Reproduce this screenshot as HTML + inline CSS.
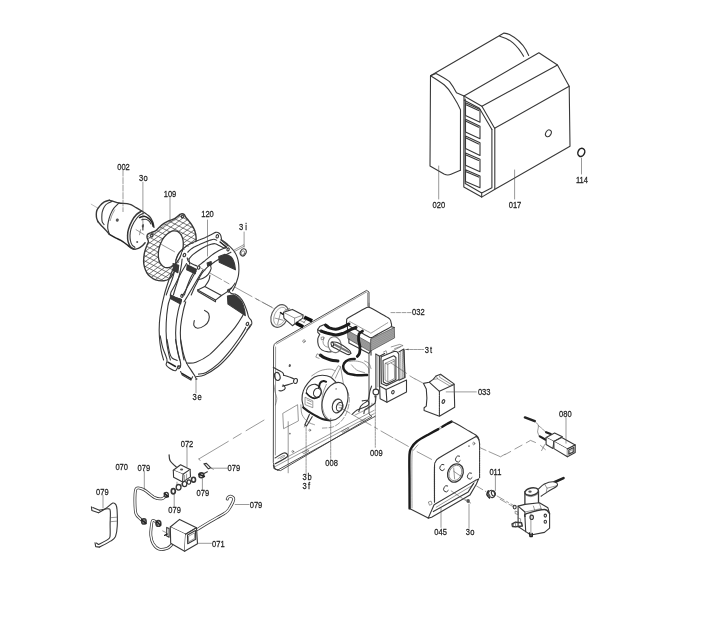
<!DOCTYPE html>
<html><head><meta charset="utf-8"><title>Parts diagram</title>
<style>
html,body{margin:0;padding:0;background:#fff;}
body{width:705px;height:617px;overflow:hidden;}
svg{display:block;filter:blur(.32px);}
.d path,.d line,.d polyline,.d polygon,.d ellipse,.d circle,.d rect{fill:none;stroke:#383838;stroke-width:1.1;stroke-linecap:round;stroke-linejoin:round;}
.d .w{fill:#fff;}
.d .k{fill:#383838;stroke:#383838;}
.d .g{fill:#555;stroke:none;}
.d .t{stroke-width:.6;stroke:#555;}
.d .h{stroke-width:1.5;stroke:#222;}
.d .c{stroke-width:.55;stroke:#888;stroke-dasharray:10 2.5 2 2.5;}
.d .x{stroke-width:.5;stroke:#444;}
.d text{font-family:"Liberation Sans",Arial,sans-serif;font-size:9px;fill:#222;stroke:#222;stroke-width:.25px;text-anchor:middle;}
</style></head><body>
<svg class="d" width="705" height="617" viewBox="0 0 705 617">
<rect x="0" y="0" width="705" height="617" style="fill:#fff;stroke:none"/>
<g id="cover">
<path d="M430.5,75.7 L504,33.1 Q507,33.3 509.5,34.6 Q520,40 526,50 L528.7,55.5"/>
<path d="M499.7,36.2 Q508,38.5 513,42.8 Q519,48 523.6,56.3"/>
<path d="M430.5,75.7 L430,166 L444,174 Q447.5,175.8 451,174.3 L460.4,170.3"/>
<path d="M430.5,75.7 L436,73.4 Q445,78 449.5,81.6 Q453,86 456.5,92.7 L464,96.1"/>
<path d="M430.5,75.7 Q440,81.5 444.4,85 Q449,89 453,96 Q458,104 460.5,109.7 L460.4,170.3"/>
<path d="M464,96.1 L538.9,52.7 L557.5,65 L569.2,86.3 L570,146.3 L496.2,188.6 L481.7,197.1 L463.8,187 Z"/>
<path d="M464,96.1 L481.9,106.3 L494.6,128.3 L569.2,86.3"/>
<path d="M481.9,106.3 L557.5,65"/>
<path d="M464.3,100.3 L479.4,108.2 L491.9,129.5"/>
<path d="M494.8,128.3 L494.8,188.8 M491.9,129.5 L491.9,187.8 L481.7,192.9 L465.2,183.5 L465.2,99 M481.7,192.9 L481.7,197.1"/>
<path d="M465.5,102.7 L480,109.5 L480,122.2 L465.5,115.4 Z M465.5,104.5 L478.6,110.6"/>
<path d="M465.5,119.2 L480,126.2 L480,138.8 L465.5,132 Z M465.5,121 L478.6,127.3"/>
<path d="M465.5,136 L480,142.8 L480,155.4 L465.5,148.6 Z M465.5,137.8 L478.6,143.9"/>
<path d="M465.5,152.9 L480,159.3 L480,171.8 L465.5,165.2 Z M465.5,154.7 L478.6,160.4"/>
<path d="M465.5,169.7 L480,176 L480,187.8 L465.5,181.6 Z M465.5,171.5 L478.6,177.1"/>
<ellipse cx="548.4" cy="133.3" rx="2.6" ry="3.6" transform="rotate(30 548.4 133.3)"/>
<ellipse class="h" cx="581.3" cy="152.4" rx="3.3" ry="4.2" transform="rotate(25 581.3 152.4)"/>
<path class="t" d="M438.7,166 L438.7,199 M514.6,170 L514.6,199 M581.5,158 L581.5,174"/>
<text transform="translate(438.8 208.3) scale(.84 1)">020</text><text transform="translate(515 208.3) scale(.84 1)">017</text><text transform="translate(582 183.3) scale(.84 1)">114</text>
</g>
<g id="motor">
<path class="c" style="stroke-dasharray:none" d="M91.2,204.2 L98,208.2"/>
<path style="stroke-width:1.4" d="M109.4,200.2 C108.5,200.5 105.9,201 104.3,201.9 C102.7,202.9 101,204.5 99.8,205.9 C98.5,207.3 97.5,209 96.9,210.4 C96.3,211.8 96.4,213.1 96.3,214.4 C96.3,215.7 96.4,217.1 96.7,218.4 C97,219.6 97.8,221.2 98,221.8"/>
<path d="M112.2,201.3 C111.5,201.7 109,202.5 107.7,203.4 C106.4,204.2 105.4,205 104.5,206.5 C103.6,207.9 102.7,210.3 102.2,212.1 C101.8,213.9 101.8,215.6 101.8,217.2 C101.8,218.8 101.9,220.5 102.2,221.8 C102.6,223 103.8,224.1 104.1,224.6"/>
<path style="stroke-width:1.3" d="M109.4,200.2 C110.1,200.4 111.8,200.9 113.4,201.3 C115,201.8 116.4,202.6 119,203 C121.7,203.5 126.4,203.4 129.3,204.2 C132.1,204.9 134,206.5 136.1,207.6 C138.1,208.7 139.5,209.5 141.7,211 C144,212.5 147.8,214.8 149.7,216.7 C151.5,218.6 152.1,220.5 152.9,222.3 C153.6,224.1 153.8,226.6 154,227.4"/>
<path style="stroke-width:1.4" d="M98,221.8 C98.7,222.5 100.8,225 102,226.3 C103.3,227.6 104.2,228.4 105.4,229.7 C106.7,231 108.7,233.5 109.4,234.3"/>
<path class="h" d="M109.4,234.3 C110.4,234.9 113.5,236.7 115.6,237.9 C117.8,239.1 120.4,240 122.4,241.3 C124.5,242.6 126.7,244.5 128.1,245.6 C129.5,246.7 130,247.3 131,247.9 C131.9,248.4 133.3,248.8 133.8,249"/>
<path d="M119,203 C118.2,203.9 115.4,206.3 113.9,208.2 C112.5,210 111.5,212.1 110.5,214.4 C109.6,216.7 108.7,219.5 108.3,221.8 C107.8,224 107.5,225.9 107.7,228 C107.9,230.1 109.1,233.2 109.4,234.3"/>
<path class="t" d="M114.7,209.9 C114.3,210.7 112.8,213.2 112,215 C111.3,216.8 110.5,219.7 110.2,220.6"/>
<path style="stroke-width:1.5" d="M141.7,211 C140.9,211.6 138.2,212.8 136.6,214.4 C135,216 133.4,218.3 132.1,220.6 C130.8,223 129.4,226.1 128.7,228.6 C127.9,231 127.6,233.2 127.6,235.4 C127.5,237.6 127.6,239.7 128.1,241.6 C128.6,243.5 129.4,245.5 130.4,246.7 C131.3,248 132.5,248.7 133.8,249 C135.1,249.3 136.9,249 138.3,248.4 C139.8,247.9 141.2,246.8 142.3,245.8 C143.4,244.9 144.7,243.3 145.1,242.8"/>
<path d="M143.4,213.3 C142.6,213.8 139.9,214.8 138.3,216.3 C136.8,217.8 135.3,220.2 134,222.3 C132.8,224.5 131.6,227 131,229.1 C130.3,231.3 130.1,233.5 130,235.4 C130,237.3 130,238.9 130.4,240.5 C130.7,242.1 131.3,243.9 132.1,245 C132.8,246.2 134.5,246.9 134.9,247.3"/>
<path class="h" d="M139.5,217.6 C140.2,217.4 142.5,216.2 144,216.3 C145.5,216.5 147.2,217.4 148.5,218.4 C149.9,219.4 151.2,221 152,222.3 C152.7,223.7 152.9,225.7 153.1,226.3"/>
<path d="M141.7,219.7 C142.4,219.7 144.5,219 145.7,219.3 C146.9,219.5 148.2,220.4 149.1,221.2 C150,222 150.7,223.6 151,224"/>
<ellipse class="g" cx="117.3" cy="220.1" rx="1.5" ry="1.7" transform="rotate(20 117.3 220.1)"/>
<ellipse class="g" cx="142.9" cy="225.7" rx="1.1" ry="1.8" transform="rotate(10 142.9 225.7)"/>
<path d="M142.9,226.9 L142.9,229.9"/>
<ellipse class="g" cx="137.2" cy="242" rx="1" ry="1" transform="rotate(0 137.2 242)"/>
<path class="t" d="M136.1,229.7 L144,234.5"/>
<path class="t" d="M140.6,229.7 L139.5,234.8"/>
<path class="t" style="stroke-dasharray:6 1.5" d="M123,170.1 L123,211.6"/>
<path class="t" d="M142.9,182.1 L142.9,224"/>
<text transform="translate(123.5 169.5) scale(.84 1)">002</text>
<text transform="translate(141.2 180.5) scale(.84 1)">3</text>
<text transform="translate(145.6 180.5) scale(.84 1)" font-size="6">o</text>
</g>
<g id="gasket">
<clipPath id="gk"><path clip-rule="evenodd" d="M147,237.3 C146.9,236.1 147,235.1 147.7,234.3 C148.4,233.5 150,233.1 151.3,232.6 C152.6,232 154.1,231.8 155.5,230.9 C157,229.9 158.4,228 159.8,226.8 C161.2,225.5 162.5,224.4 164,223.4 C165.6,222.4 167.4,221.5 169.1,220.7 C170.9,219.9 173,219.5 174.6,218.6 C176.2,217.8 177.4,216.3 178.5,215.6 C179.6,214.8 180.1,214 181.1,213.9 C182,213.7 183.3,213.8 184.1,214.4 C184.9,214.9 185.1,216.2 185.8,217.3 C186.6,218.3 187.7,219.3 188.7,220.7 C189.8,222 191.1,223.8 192.1,225.4 C193.1,227.1 194,228.7 194.7,230.5 C195.3,232.4 195.9,234.4 196,236.5 C196.2,238.6 196.2,241.2 195.7,243.3 C195.2,245.4 194.6,247.1 193,249.3 C191.4,251.4 188.2,253.8 186.2,256.1 C184.2,258.3 182.8,260.6 181.1,262.9 C179.4,265.1 177.2,268 176,269.7 C174.7,271.4 174.4,271.7 173.4,273.1 C172.4,274.5 171.6,276.9 170,278.2 C168.4,279.5 166.5,280.5 164,280.7 C161.6,281 157.9,280.6 155.5,279.9 C153.2,279.2 151.5,277.6 150.1,276.5 C148.7,275.4 148,274.6 147,273.1 C146.1,271.5 145,269.1 144.5,267.1 C143.9,265.1 143.6,263.6 143.6,261.2 C143.6,258.8 144,255.2 144.5,252.7 C145,250.1 146,247.7 146.7,245.9 C147.3,244 148.3,243 148.4,241.6 C148.4,240.2 147.1,238.6 147,237.3 Z M176.7,231.2 C177.6,231.5 178.5,232.1 179.3,232.8 C180.1,233.5 180.8,234.4 181.4,235.4 C182,236.5 182.4,237.7 182.8,239.1 C183.1,240.4 183.3,241.9 183.3,243.4 C183.3,244.9 183.2,246.5 183,248.1 C182.7,249.7 182.3,251.3 181.8,252.9 C181.3,254.4 180.7,256 179.9,257.4 C179.2,258.9 178.3,260.2 177.4,261.4 C176.5,262.6 175.5,263.7 174.4,264.6 C173.4,265.5 172.3,266.2 171.2,266.7 C170.2,267.3 169,267.6 168,267.7 C166.9,267.8 165.9,267.7 164.9,267.4 C164,267.1 163.1,266.5 162.3,265.8 C161.5,265.1 160.8,264.2 160.2,263.2 C159.6,262.1 159.2,260.9 158.8,259.5 C158.5,258.2 158.3,256.7 158.3,255.2 C158.3,253.7 158.4,252.1 158.6,250.5 C158.9,248.9 159.3,247.3 159.8,245.7 C160.3,244.2 160.9,242.6 161.7,241.2 C162.4,239.7 163.3,238.4 164.2,237.2 C165.1,236 166.1,234.9 167.2,234 C168.2,233.1 169.3,232.4 170.4,231.9 C171.4,231.3 172.6,231 173.6,230.9 C174.7,230.8 175.7,230.9 176.7,231.2 Z"/></clipPath>
<path style="stroke-width:.7;stroke:#444" clip-path="url(#gk)" d="M-144.0,300 L-10.7,200 M-137.2,300 L-3.9,200 M-130.4,300 L2.9,200 M-123.6,300 L9.7,200 M-116.8,300 L16.5,200 M-110.0,300 L23.3,200 M-103.2,300 L30.1,200 M-96.4,300 L36.9,200 M-89.6,300 L43.7,200 M-82.8,300 L50.5,200 M-76.0,300 L57.3,200 M-69.2,300 L64.1,200 M-62.4,300 L70.9,200 M-55.6,300 L77.7,200 M-48.8,300 L84.5,200 M-42.0,300 L91.3,200 M-35.2,300 L98.1,200 M-28.4,300 L104.9,200 M-21.6,300 L111.7,200 M-14.8,300 L118.5,200 M-8.0,300 L125.3,200 M-1.2,300 L132.1,200 M5.6,300 L138.9,200 M12.4,300 L145.7,200 M19.2,300 L152.5,200 M26.0,300 L159.3,200 M32.8,300 L166.1,200 M39.6,300 L172.9,200 M46.4,300 L179.7,200 M53.2,300 L186.5,200 M60.0,300 L193.3,200 M66.8,300 L200.1,200 M73.6,300 L206.9,200 M80.4,300 L213.7,200 M87.2,300 L220.5,200 M94.0,300 L227.3,200 M100.8,300 L234.1,200 M107.6,300 L240.9,200 M114.4,300 L247.7,200 M121.2,300 L254.5,200 M128.0,300 L261.3,200 M134.8,300 L268.1,200 M141.6,300 L274.9,200 M148.4,300 L281.7,200 M155.2,300 L288.5,200 M162.0,300 L295.3,200 M168.8,300 L302.1,200 M175.6,300 L308.9,200 M182.4,300 L315.7,200 M189.2,300 L322.5,200 M196.0,300 L329.3,200 M202.8,300 L336.1,200 M209.6,300 L342.9,200 M216.4,300 L349.7,200 M223.2,300 L356.5,200 M230.0,300 L363.3,200 M236.8,300 L370.1,200 M243.6,300 L376.9,200 M250.4,300 L383.7,200 M257.2,300 L390.5,200 M264.0,300 L397.3,200 M270.8,300 L404.1,200 M277.6,300 L410.9,200 M284.4,300 L417.7,200 M291.2,300 L424.5,200 M298.0,300 L431.3,200 M304.8,300 L438.1,200 M311.6,300 L444.9,200 M318.4,300 L451.7,200 M325.2,300 L458.5,200 M130,108.0 L210,148.0 M130,113.2 L210,153.2 M130,118.4 L210,158.4 M130,123.6 L210,163.6 M130,128.8 L210,168.8 M130,134.0 L210,174.0 M130,139.2 L210,179.2 M130,144.4 L210,184.4 M130,149.6 L210,189.6 M130,154.8 L210,194.8 M130,160.0 L210,200.0 M130,165.2 L210,205.2 M130,170.4 L210,210.4 M130,175.6 L210,215.6 M130,180.8 L210,220.8 M130,186.0 L210,226.0 M130,191.2 L210,231.2 M130,196.4 L210,236.4 M130,201.6 L210,241.6 M130,206.8 L210,246.8 M130,212.0 L210,252.0 M130,217.2 L210,257.2 M130,222.4 L210,262.4 M130,227.6 L210,267.6 M130,232.8 L210,272.8 M130,238.0 L210,278.0 M130,243.2 L210,283.2 M130,248.4 L210,288.4 M130,253.6 L210,293.6 M130,258.8 L210,298.8 M130,264.0 L210,304.0 M130,269.2 L210,309.2 M130,274.4 L210,314.4 M130,279.6 L210,319.6 M130,284.8 L210,324.8 M130,290.0 L210,330.0 M130,295.2 L210,335.2 M130,300.4 L210,340.4 M130,305.6 L210,345.6 M130,310.8 L210,350.8 M130,316.0 L210,356.0 M130,321.2 L210,361.2 M130,326.4 L210,366.4 M130,331.6 L210,371.6 M130,336.8 L210,376.8 M130,342.0 L210,382.0 M130,347.2 L210,387.2 M130,352.4 L210,392.4 M130,357.6 L210,397.6 M130,362.8 L210,402.8"/>
<path style="stroke-width:1.4" d="M147,237.3 C146.9,236.1 147,235.1 147.7,234.3 C148.4,233.5 150,233.1 151.3,232.6 C152.6,232 154.1,231.8 155.5,230.9 C157,229.9 158.4,228 159.8,226.8 C161.2,225.5 162.5,224.4 164,223.4 C165.6,222.4 167.4,221.5 169.1,220.7 C170.9,219.9 173,219.5 174.6,218.6 C176.2,217.8 177.4,216.3 178.5,215.6 C179.6,214.8 180.1,214 181.1,213.9 C182,213.7 183.3,213.8 184.1,214.4 C184.9,214.9 185.1,216.2 185.8,217.3 C186.6,218.3 187.7,219.3 188.7,220.7 C189.8,222 191.1,223.8 192.1,225.4 C193.1,227.1 194,228.7 194.7,230.5 C195.3,232.4 195.9,234.4 196,236.5 C196.2,238.6 196.2,241.2 195.7,243.3 C195.2,245.4 194.6,247.1 193,249.3 C191.4,251.4 188.2,253.8 186.2,256.1 C184.2,258.3 182.8,260.6 181.1,262.9 C179.4,265.1 177.2,268 176,269.7 C174.7,271.4 174.4,271.7 173.4,273.1 C172.4,274.5 171.6,276.9 170,278.2 C168.4,279.5 166.5,280.5 164,280.7 C161.6,281 157.9,280.6 155.5,279.9 C153.2,279.2 151.5,277.6 150.1,276.5 C148.7,275.4 148,274.6 147,273.1 C146.1,271.5 145,269.1 144.5,267.1 C143.9,265.1 143.6,263.6 143.6,261.2 C143.6,258.8 144,255.2 144.5,252.7 C145,250.1 146,247.7 146.7,245.9 C147.3,244 148.3,243 148.4,241.6 C148.4,240.2 147.1,238.6 147,237.3 Z"/>
<path style="stroke-width:1.3" d="M176.7,231.2 C177.6,231.5 178.5,232.1 179.3,232.8 C180.1,233.5 180.8,234.4 181.4,235.4 C182,236.5 182.4,237.7 182.8,239.1 C183.1,240.4 183.3,241.9 183.3,243.4 C183.3,244.9 183.2,246.5 183,248.1 C182.7,249.7 182.3,251.3 181.8,252.9 C181.3,254.4 180.7,256 179.9,257.4 C179.2,258.9 178.3,260.2 177.4,261.4 C176.5,262.6 175.5,263.7 174.4,264.6 C173.4,265.5 172.3,266.2 171.2,266.7 C170.2,267.3 169,267.6 168,267.7 C166.9,267.8 165.9,267.7 164.9,267.4 C164,267.1 163.1,266.5 162.3,265.8 C161.5,265.1 160.8,264.2 160.2,263.2 C159.6,262.1 159.2,260.9 158.8,259.5 C158.5,258.2 158.3,256.7 158.3,255.2 C158.3,253.7 158.4,252.1 158.6,250.5 C158.9,248.9 159.3,247.3 159.8,245.7 C160.3,244.2 160.9,242.6 161.7,241.2 C162.4,239.7 163.3,238.4 164.2,237.2 C165.1,236 166.1,234.9 167.2,234 C168.2,233.1 169.3,232.4 170.4,231.9 C171.4,231.3 172.6,231 173.6,230.9 C174.7,230.8 175.7,230.9 176.7,231.2 Z"/>
<path class="t" d="M149.1,235.3 C149.6,235.1 150.9,234.4 152.1,233.9 C153.3,233.4 155,233.2 156.4,232.2 C157.8,231.3 159.2,229.5 160.6,228.3 C162.1,227.1 163.3,226 164.9,224.9 C166.5,223.9 168.3,222.8 170,222 C171.7,221.2 173.5,220.8 175.1,220 C176.7,219.1 178.3,217.7 179.4,216.9 C180.4,216.2 181.1,215.8 181.4,215.6"/>
<ellipse cx="151.8" cy="235.6" rx="1.2" ry="1.5" transform="rotate(20 151.8 235.6)"/>
<ellipse cx="182.4" cy="216.6" rx="1" ry="1.4" transform="rotate(20 182.4 216.6)"/>
<path class="t" d="M161.5,244.5 L174.6,251.8"/>
<path class="t" d="M170,197.3 L170,220.7"/>
<text transform="translate(170 196.5) scale(.84 1)">109</text>
</g>
<g id="housing">
<path class="w" style="stroke:none" d="M159.4,325 C159.9,321.9 161.6,315 162.8,310.2 C163.9,305.5 165,300.7 166.2,296.6 C167.3,292.5 168.3,289.2 169.6,285.5 C170.9,281.8 172.4,278 173.8,274.5 C175.2,271 176.9,267.6 178.1,264.6 C179.3,261.6 180.4,258.6 181.1,256.6 C181.9,254.6 181.7,253.6 182.3,252.3 C183,251.1 183.6,250.4 184.9,249.3 C186.2,248.1 188.4,246.6 190,245.5 C191.6,244.5 192.4,244 194.3,243 C196.1,242 198.8,240.7 201.1,239.6 C203.3,238.5 205.7,237.4 207.9,236.5 C210,235.7 212.4,235.1 213.8,234.5 C215.3,233.8 215.7,233 216.7,232.8 C217.7,232.6 219,232.7 219.8,233.3 C220.6,233.8 221.1,235 221.5,236.2 C221.9,237.3 221.6,239 222.3,240.1 C223,241.2 224.5,241.9 225.7,243 C227,244 228.6,245 230,246.4 C231.4,247.8 233.1,249.6 234.3,251.5 C235.4,253.3 236.4,255.3 237.1,257.4 C237.9,259.6 238.6,262 238.9,264.3 C239.1,266.5 239,268.8 238.9,271.1 C238.7,273.3 238.2,275.7 237.7,277.9 C237.1,280.1 236.4,282.6 235.4,284.3 C234.5,286 233,287.1 232,288.1 C231.1,289 229.9,289.4 229.7,290.1 C229.5,290.8 229.9,291.9 230.9,292.3 C231.8,292.8 233.7,292.3 235.1,292.9 C236.5,293.4 238,294.4 239.4,295.7 C240.7,297.1 242.1,299 243.3,300.9 C244.5,302.7 245.7,304.5 246.7,306.8 C247.6,309.1 248.4,311.9 249.1,314.5 C249.7,317 250,320.5 250.4,322.1 C250.9,323.7 251.6,323.5 251.6,324.2 C251.7,324.9 251.4,325.3 250.8,326.4 C250.1,327.5 249.6,328.2 247.9,330.6 C246.1,333.1 243.2,337.2 240.2,341.2 C237.2,345.2 233.7,350.3 230,354.5 C226.3,358.7 222.1,363 218.1,366.4 C214.1,369.8 209.4,373 206.2,374.9 C202.9,376.7 200.4,376.7 198.5,377.4 C196.7,378.2 196.4,378.7 195.1,379.1 C193.8,379.6 193,380.7 190.9,380 C188.7,379.3 184.9,376.8 182.3,375.2 C179.8,373.7 177.7,372 175.5,370.8 C173.4,369.6 171.1,369.2 169.6,368.3 C168,367.3 166.6,366.3 166.2,364.9 C165.7,363.4 167.6,362.6 167,359.7 C166.5,356.9 163.9,351.8 162.8,347.8 C161.6,343.9 160.8,339.1 160.2,335.9 C159.6,332.8 159.5,330.8 159.4,328.9 C159.2,327.1 158.8,328.1 159.4,325 Z"/>
<path d="M166.2,295 C166.6,293.9 167.7,290.8 168.5,288.5 C169.4,286.3 170.5,284.2 171.3,281.7 C172.2,279.3 173.2,276.3 173.8,273.8 C174.5,271.3 175,269.3 175.3,267 C175.7,264.7 175.6,261.9 175.9,260.2 C176.2,258.5 176.5,257.9 177,256.8 C177.5,255.6 178,254.5 178.7,253.4 C179.5,252.3 180.6,251.1 181.6,250.2 C182.5,249.2 183.1,248.7 184.4,247.7 C185.7,246.7 187.9,245.2 189.5,244.3 C191.1,243.3 192.3,242.8 194,242 C195.7,241.3 197.8,240.5 199.7,239.8 C201.6,239 203.7,238.2 205.4,237.5 C207.1,236.7 208.6,235.9 209.9,235.2 C211.3,234.6 212.4,234 213.3,233.5 C214.3,233 214.8,232.6 215.6,232.4 C216.4,232.2 217.1,232.1 217.9,232.4 C218.6,232.7 219.6,233.4 220.1,234.1 C220.7,234.7 220.8,235.4 221,236.3 C221.3,237.3 221.2,238.8 221.8,239.8 C222.4,240.7 223.6,241.2 224.7,242 C225.7,242.9 226.8,243.6 228.1,244.9 C229.4,246.1 231.4,248 232.6,249.4 C233.9,250.8 234.7,252 235.5,253.4 C236.3,254.8 236.9,256.2 237.4,257.9 C237.9,259.6 238.4,261.5 238.6,263.6 C238.9,265.7 238.9,268.3 238.9,270.4 C238.8,272.5 238.7,274.2 238.3,276.1 C237.9,278 237.2,280 236.6,281.7 C236,283.4 235.6,284.8 234.9,286.3 C234.2,287.8 233,290.1 232.6,290.8"/>
<ellipse cx="184.4" cy="255.1" rx="1.2" ry="1.7" transform="rotate(20 184.4 255.1)"/>
<ellipse cx="217.3" cy="236.3" rx="1.2" ry="1.7" transform="rotate(20 217.3 236.3)"/>
<ellipse cx="228.1" cy="249.4" rx="1.1" ry="1.6" transform="rotate(20 228.1 249.4)"/>
<ellipse cx="198.6" cy="267.6" rx="1.2" ry="1.7" transform="rotate(20 198.6 267.6)"/>
<path d="M187.8,252.2 C188.3,251.8 189.6,250.2 190.6,249.4 C191.7,248.5 192.7,247.9 194,247.1 C195.4,246.4 196.7,245.7 198.6,244.9 C200.5,244 203.5,242.8 205.4,242 C207.3,241.3 208.5,240.8 209.9,240.3 C211.3,239.8 212.8,239.2 213.9,239.2 C215,239.2 216.3,240.1 216.7,240.3"/>
<path d="M188.9,259 C189.6,258.3 191.3,256.1 192.9,254.7 C194.5,253.3 196.5,251.9 198.6,250.5 C200.7,249.2 203.3,247.6 205.4,246.6 C207.5,245.5 209.5,244.8 211.1,244.3 C212.7,243.8 213.7,243.5 215,243.7 C216.4,243.9 217.6,244.8 219,245.4 C220.4,246.1 222.3,247.3 223.5,247.7 C224.8,248.1 225.9,247.7 226.4,247.7"/>
<path d="M220.7,239.8 C221.4,240.3 223.5,242.1 224.7,243.2 C225.9,244.2 227.5,245.5 228.1,246"/>
<path class="h" d="M220.1,242 L226.4,247.1"/>
<path d="M225.8,247.7 C224.7,248.2 221.5,249.2 219,250.5 C216.5,251.9 213.5,253.8 211.1,255.6 C208.6,257.4 206.2,259.7 204.3,261.3 C202.3,262.9 200,264.6 199.1,265.3"/>
<path d="M196.1,269.5 C195.7,270 194.4,271.3 193.5,272.7 C192.6,274 191.7,275.5 190.6,277.8 C189.6,280 188.3,283.4 187.2,286.3 C186.2,289.2 184.9,293.6 184.4,295"/>
<path d="M230.9,252.2 C229.7,252.9 226.1,254.7 223.5,256.2 C221,257.7 218.1,259.7 215.6,261.3 C213.1,262.9 210.6,264.4 208.8,265.9 C207,267.3 206.1,268.3 204.8,269.8 C203.5,271.3 202.1,272.9 200.9,274.9 C199.6,276.9 198.6,279.5 197.4,281.7 C196.3,284 195.1,286.3 194,288.5 C193,290.8 191.7,293.9 191.2,295"/>
<path d="M187.2,257.9 C187.4,258.5 187.5,260.3 188.4,261.3 C189.2,262.4 190.9,263.4 192.3,264.1 C193.8,264.9 196.1,265.6 196.9,265.9"/>
<path d="M181.6,250.2 C181,250.9 179.1,252.8 178.2,254.5 C177.2,256.2 176.3,259.2 175.9,260.2"/>
<path d="M182.1,259 C182,259.8 181.8,261.7 181.6,263.6 C181.3,265.5 181,267.7 180.4,270.4 C179.9,273 179,276.4 178.2,279.5 C177.3,282.5 176.1,286 175.3,288.5 C174.5,291.1 173.7,293.9 173.4,295"/>
<path class="k" d="M173,263.6 L178.7,265.3 L177.9,272.7 L173.6,270.4 Z"/>
<path class="k" d="M187.2,264.7 L196.3,269.3 L195.2,273.8 L186.7,269.8 Z"/>
<path class="k" d="M207.1,263 L211.1,261.5 L211.6,264.7 L207.7,266.1 Z"/>
<path class="k" d="M218.7659574468085,256.4255319148936 L224.8936170212766,254.38297872340425 Q228.63829787234044,254.72340425531914 231.36170212765956,257.1063829787234 Q234.59574468085106,260.8510638297872 235.44680851063828,269.70212765957444 L219.27659574468083,262.2127659574468 Z"/>
<path class="k" d="M227.44680851063828,296.0851063829787 L233.40425531914894,294.8936170212766 Q237.6595744680851,296.25531914893617 240.55319148936172,300.0 Q244.46808510638297,305.1063829787234 245.31914893617022,315.6595744680851 L227.95744680851064,304.0851063829787 Z"/>
<path d="M197.4,279.7 C198.4,279.5 201.3,279.2 203.1,278.3 C204.9,277.4 206.9,276 208.2,274.4 C209.6,272.8 210.7,270.3 211.1,268.7 C211.4,267.1 210.3,265.4 210.2,264.7"/>
<path d="M188.9,259 L189.7,264.1"/>
<path d="M197.7,289.9 L204.8,286.5 L221.5,295.5 L215.5,300.1 Z"/>
<path d="M197.7,289.9 L198,291.6 L215.5,301.8 L215.5,300.1"/>
<path d="M204.8,286.5 C205.5,285.5 207.9,282.4 208.7,280.5 C209.6,278.7 209.7,276.3 209.9,275.4"/>
<path d="M221.5,295.5 C222.5,294.9 225.7,292.8 227.4,291.6 C229.1,290.4 231,288.8 231.7,288.2"/>
<path d="M196,271.2 C195.1,272.7 192.7,277.1 190.9,280.5 C189,283.9 186.3,289 184.9,291.6 C183.5,294.1 182.8,295.1 182.3,295.9"/>
<path d="M202.8,270.3 C201.9,271.7 199.5,275.7 197.7,278.8 C195.8,282 193.5,285.9 191.7,289 C189.9,292.2 187.9,295.4 186.6,297.6 C185.3,299.7 184.5,301.1 184,301.8"/>
<path d="M186.6,263.5 C185.6,265.2 182.5,270.3 180.6,273.7 C178.8,277.1 177.1,281 175.5,283.9 C174,286.9 172.1,289.8 171.3,291.6 C170.4,293.4 170.6,294.4 170.4,295"/>
<path d="M170.4,295 L175.5,297.6 L181.5,299.6"/>
<path class="k" d="M170.4,295 L175.5,297.6 L181.5,299.6 L180.6,303.9 L170.4,298.4 Z"/>
<ellipse cx="182" cy="295.9" rx="1.2" ry="1.5" transform="rotate(20 182 295.9)"/>
<path d="M173,268.6 C172.3,270.6 170.1,276.3 168.7,280.5 C167.3,284.8 165.7,289.3 164.5,294.1 C163.2,299 161.9,304.6 161.1,309.5 C160.2,314.3 159.6,318.5 159.4,323.1 C159.1,327.6 159.1,332.2 159.4,336.7 C159.6,341.2 160.4,346.4 161.1,350.3 C161.8,354.2 163.2,358.4 163.6,360"/>
<path d="M170.4,297.6 C170,299 168.6,301.8 167.9,306.1 C167.2,310.3 166.4,317.4 166.2,323.1 C165.9,328.8 166.1,335 166.5,340.1 C166.9,345.2 168.1,350.4 168.7,353.7 C169.4,357 170.1,359 170.4,360"/>
<path d="M181.5,299.6 C180.9,301.5 179,306.7 178.1,311.2 C177.1,315.7 176.2,321.7 175.9,326.5 C175.5,331.3 175.5,335.6 175.9,340.1 C176.2,344.6 177.4,350.4 178.1,353.7 C178.7,357 179.5,359 179.8,360"/>
<path d="M185.7,301.8 C185.3,303.4 184,307.1 183.2,311.2 C182.3,315.3 181.1,321.7 180.6,326.5 C180.2,331.3 180.3,335.6 180.6,340.1 C181,344.6 182.1,350.4 182.7,353.7 C183.2,357 183.8,359 184,360"/>
<path d="M235.1,283.1 C234.6,283.8 233,286.2 232,287.3 C231,288.5 229.3,288.9 229.1,289.9 C229,290.9 229.9,292.6 230.9,293.3 C231.8,294 233.5,293.4 235.1,294.1 C236.7,294.9 238.7,296 240.2,297.6 C241.7,299.1 242.8,301.2 244,303.5 C245.1,305.8 246.2,308.9 247,311.2 C247.8,313.4 248,315.6 248.7,317.1 C249.4,318.7 250.8,319.4 251.3,320.5 C251.8,321.7 252.1,322.8 251.8,323.9 C251.5,325.1 250.4,326.3 249.6,327.3 C248.8,328.3 247.4,329.5 247,329.9"/>
<ellipse cx="228.6" cy="290.7" rx="1" ry="1.4" transform="rotate(0 228.6 290.7)"/>
<ellipse cx="247.4" cy="323.9" rx="1.2" ry="1.7" transform="rotate(20 247.4 323.9)"/>
<path d="M204.5,310.3 C205.2,310.9 208,312 208.7,313.7 C209.4,315.4 209.4,318.5 208.7,320.5 C208,322.5 206.3,324.4 204.5,325.6 C202.6,326.9 199.4,328.2 197.7,328.2 C195.9,328.2 194.5,326.9 193.9,325.6 C193.3,324.4 194.2,321.4 194.3,320.5"/>
<path d="M160.2,335.9 C160.6,337.8 161.6,343.8 162.8,347.8 C163.9,351.7 166.5,356.8 167,359.7 C167.6,362.5 165.7,363.4 166.2,364.8 C166.6,366.2 168,367.2 169.6,368.2 C171.1,369.2 174.1,371.2 175.5,370.7 C177,370.3 177.7,366.5 178.1,365.6"/>
<path d="M167,339.3 C167.4,341.5 168.7,349.8 169.6,352.9 C170.4,356 170.9,356.7 172.1,358 C173.4,359.3 176.4,360.1 177.2,360.5"/>
<path d="M175.5,339.3 C176,341.5 177.2,348.9 178.1,352.9 C178.9,356.8 180.3,360.7 180.6,363.1 C181,365.5 180.4,366.6 180.3,367.3"/>
<path d="M180.6,339.3 C181.1,341.5 182.2,348.9 183.2,352.9 C184.2,356.8 185.3,360.2 186.6,363.1 C187.9,365.9 189.6,367.9 190.9,369.9 C192.1,371.9 193.5,373.7 194.3,375 C195,376.3 195.4,377.1 195.6,377.6"/>
<path d="M186.6,363.1 C188.2,362.9 192.1,363.7 196,362.2 C199.8,360.8 205,358.1 209.6,354.6 C214.1,351 218.9,345.5 223.2,341 C227.4,336.4 232,331.3 235.1,327.3 C238.2,323.4 240.4,319.7 241.9,317.1 C243.5,314.6 244,312.9 244.5,312"/>
<path d="M196,376.7 C197.4,376.4 200.8,376.7 204.5,375 C208.2,373.3 213.8,369.9 218.1,366.5 C222.3,363.1 226.3,358.8 230,354.6 C233.7,350.3 237.4,344.9 240.2,341 C243,337 245.3,333.4 247,330.7 C248.7,328 249.9,325.8 250.4,324.8"/>
<path d="M198.5,374.1 C199.8,373.9 202.9,374.1 206.2,372.4 C209.4,370.7 214.4,367.2 218.1,363.9 C221.8,360.7 224.9,357 228.3,352.9 C231.7,348.8 235.8,343.1 238.5,339.3 C241.2,335.4 243.3,331.9 244.5,329.9 C245.7,327.9 245.5,327.8 245.7,327.3"/>
<ellipse cx="178.9" cy="367.3" rx="1" ry="1.5" transform="rotate(20 178.9 367.3)"/>
<path d="M180.6,371.6 L182.3,375 L190.9,380.1 L192.6,376.7"/>
<path class="h" d="M167.9,362.2 L175.5,366.5"/>
<path class="h" d="M182.3,373.6 L190.5,378.4"/>
<ellipse class="g" cx="196.3" cy="378.9" rx="1.2" ry="1" transform="rotate(0 196.3 378.9)"/>
<path class="t" d="M196,380.1 L196,392.9"/>
<text transform="translate(194.5 399.5) scale(.84 1)">3</text>
<text transform="translate(199.5 399.5) scale(.84 1)" font-size="6">e</text>
<path class="t" d="M207.5,220 L207.5,256"/>
<text transform="translate(207.5 216.8) scale(.84 1)">120</text>
</g>
<g id="plate">
<path class="w" style="stroke-width:.95;stroke:#444" d="M273.6,346.5 Q273.8,344.2 275.8,342.7 L366.6,290.4 L369,292 L369,414 L372,416.5 L280.5,470.6 L275,469 L273.4,463 Z"/>
<path class="t" d="M275.6,347 L275.4,455"/>
<path class="t" d="M276.5,344 L366.3,292.1 L367.6,293 L367.6,306"/>
<ellipse class="t" cx="304" cy="341.2" rx="1.1" ry="1.5" transform="rotate(20 304 341.2)"/>
<ellipse class="g" cx="289.8" cy="365.6" rx="1.1" ry="1.5" transform="rotate(20 289.8 365.6)"/>
<ellipse cx="277.3" cy="376.4" rx="2.7" ry="4.1" transform="rotate(-15 277.3 376.4)"/>
<path d="M273.3,367.3 C274.9,368.2 280.7,371.1 282.4,372.4 C284.1,373.8 283.4,374.8 283.6,375.3"/>
<path d="M283.6,375.3 C284.4,375.5 287,376.2 288.7,376.8 C290.4,377.3 292.9,378.4 293.8,378.7"/>
<path d="M282.4,386.1 C283.3,385.9 285.8,385.4 287.5,384.9 C289.2,384.5 291.8,383.5 292.6,383.2"/>
<ellipse cx="295.5" cy="381" rx="1.9" ry="2.5" transform="rotate(15 295.5 381)"/>
<path d="M279,390.6 C279.5,390.6 280.8,391.2 281.9,390.8 C282.9,390.4 285.1,389.1 285.3,388.1 C285.5,387.1 283.4,385.5 283,384.9"/>
<path class="t" d="M273.9,384.9 C274.1,386.1 274.6,389.5 275,391.7 C275.5,394 276.7,396.3 276.8,398.5 C276.8,400.8 275.6,403.9 275.4,405"/>
<path class="t" style="stroke:#888" d="M255,298.1 L273.3,308.3"/>
<ellipse class="w" style="stroke:#555;stroke-width:1.1" cx="279.7" cy="316" rx="8.2" ry="11.9" transform="rotate(24 279.7 316)"/>
<ellipse class="t" style="stroke:#777" cx="280.2" cy="316.2" rx="5.8" ry="9.5" transform="rotate(24 280.2 316.2)"/>
<path class="t" d="M275,318.1 L283.1,320.2"/>
<path class="t" d="M280.5,313 L277.6,324"/>
<path class="w" d="M283.9,318.1 L283.5,312.3 L292.4,309.4 L303.1,315.1 L302.7,318.1 L294.6,324 L292.4,325.7 Z"/>
<path class="t" d="M283.5,312.3 L294.6,318.1 L303.1,315.1"/>
<path class="t" d="M294.6,318.1 L294.6,324"/>
<path class="h" d="M280.5,312.6 L283.1,314.3"/>
<path class="t" d="M284.8,310.4 L289.5,308.3 L290.3,310"/>
<path style="stroke-width:3.6;stroke:#111;stroke-linecap:butt" d="M304.2,317.1 L312.2,320.8"/>
<path style="stroke-width:3.6;stroke:#111;stroke-linecap:butt" d="M296,323.2 L303.2,326.8"/>
<path class="t" d="M302.7,318.5 L306.1,320.2 L303.5,322.3"/>
<path class="t" d="M299.3,320 L304.8,322.8"/>
<path class="w" style="stroke:none" d="M346.7,320.7 L368.4,307.1 L391.1,319.5 L394.6,327.5 L394.6,337.9 L371,350.8 L371,355.1 L369,353.4 L348.9,343.1 L347.3,330.5 Z"/>
<path style="fill:#a4a4a4;stroke:#444;stroke-width:.7" d="M347.6,330.5 L370.3,343.4 L370.3,351.6 L348.3,338.9 Z"/>
<path style="fill:#a4a4a4;stroke:#444;stroke-width:.7" d="M371,338.9 L394.3,327.5 L394.6,337.9 L371,350.8 Z"/>
<path style="stroke:#777;stroke-width:.4" d="M347.7,331.9 L370.3,344.8"/>
<path style="stroke:#777;stroke-width:.4" d="M371,340.9 L394.4,329.2"/>
<path style="stroke:#777;stroke-width:.4" d="M347.7,333.3 L370.3,346.2"/>
<path style="stroke:#777;stroke-width:.4" d="M371,342.8 L394.4,330.9"/>
<path style="stroke:#777;stroke-width:.4" d="M347.7,334.8 L370.3,347.5"/>
<path style="stroke:#777;stroke-width:.4" d="M371,344.7 L394.4,332.6"/>
<path style="stroke:#777;stroke-width:.4" d="M347.7,336.2 L370.3,348.9"/>
<path style="stroke:#777;stroke-width:.4" d="M371,346.7 L394.4,334.2"/>
<path style="stroke:#777;stroke-width:.4" d="M347.7,337.6 L370.3,350.3"/>
<path style="stroke:#777;stroke-width:.4" d="M371,348.6 L394.4,335.9"/>
<path class="t" d="M370.3,343.4 L371,338.9"/>
<path class="t" d="M370.3,351.6 L371,350.8"/>
<path d="M347.3,324.6 L347.6,330.5"/>
<path d="M391.1,326.6 L394.3,327.5"/>
<path d="M348.9,338.9 L348.9,343.1 L369,353.4 L370.3,351.6"/>
<path d="M371,350.8 L371,355.1"/>
<path class="w" d="M347.3,324.6 C345.5,323 346.7,321.8 346.7,320.7 C346.7,319.7 345.9,319.5 347.6,318.2 C349.3,316.9 353.7,314.7 356.7,313 C359.7,311.3 363.8,309 365.8,308 C367.7,307.1 367.5,307.1 368.4,307.1 C369.2,307.1 369.1,307.1 371,308 C372.8,309 376.6,311.1 379.4,312.7 C382.2,314.3 386,316.4 387.8,317.5 C389.6,318.6 389.6,318.6 390.1,319.5 C390.7,320.3 390.9,321.5 391.1,322.7 C391.2,323.9 392.5,325.1 391.1,326.6 C389.6,328.1 385.5,329.8 382.6,331.5 C379.7,333.2 375.5,335.7 373.5,336.7 C371.6,337.7 371.7,337.6 371,337.6 C370.2,337.7 371.2,338.1 369,337 C366.8,335.8 361.6,332.8 358,330.7 C354.4,328.7 349.2,326.3 347.3,324.6 Z"/>
<path class="t" d="M349.6,321.4 C351.2,322.3 355.9,325 359.3,326.8 C362.6,328.7 367.6,331.4 369.7,332.4 C371.7,333.4 369.9,333.5 371.6,332.7 C373.3,331.9 377.3,329.2 380,327.5 C382.7,325.8 386.5,323.5 387.8,322.7"/>
<path class="t" d="M369,303.2 L369,307.1"/>
<path d="M319.7,334.4 C319.4,335.1 318,337.1 317.8,338.9 C317.6,340.7 317.8,343.6 318.4,345.4 C319.1,347.2 320.1,348.8 321.7,349.9 C323.3,351 326.2,351.7 328.2,351.9 C330.1,352.1 332.5,351.3 333.3,351.2"/>
<path class="t" d="M324.3,337.6 C324,338.3 323,340.2 323,341.5 C323,342.8 323.4,344.4 324.3,345.4 C325.1,346.4 327.5,347 328.2,347.3"/>
<path d="M317.8,329.2 L319.7,326.6 L325.6,324 L328.2,325.9"/>
<path d="M317.8,329.2 L317.8,332.4 L319.7,334.4"/>
<path class="t" d="M321.4,337.3 L323.5,336.8 L323.7,339.2 L321.7,339.7 Z"/>
<ellipse class="w" style="stroke:#777" cx="334.6" cy="344.7" rx="6.5" ry="8" transform="rotate(-15 334.6 344.7)"/>
<path d="M332,342.1 C333,342.3 335.1,341.5 337.9,342.8 C340.7,344.1 346.7,348.2 348.9,349.9 C351.1,351.7 350.5,352.6 350.9,353.2"/>
<path d="M331.4,346 C332.2,346.5 333.2,347.2 335.9,348.6 C338.6,350 345.1,353.7 347.6,354.5 C350.1,355.2 350.3,353.4 350.9,353.2"/>
<path style="stroke-width:2.2;stroke:#777" d="M334.6,344.5 L348.9,352.1"/>
<ellipse cx="332.3" cy="344.1" rx="1.2" ry="2.1" transform="rotate(-15 332.3 344.1)"/>
<path style="stroke-width:3.1;stroke:#1c1c1c" d="M325.6,325.3 C326.2,325.7 327.7,327.2 329.5,327.9 C331.2,328.5 333.8,329.3 335.9,329.2 C338.1,329.1 340.3,328.1 342.4,327.2 C344.6,326.4 347.8,324.5 348.9,324"/>
<path style="stroke-width:3.1;stroke:#1c1c1c" d="M321,331.1 C322,331.4 324.4,332.4 326.9,333.1 C329.3,333.7 333.1,335 335.9,335 C338.7,335 341.3,333.9 343.7,333.1 C346.1,332.2 348.1,330.8 350.2,329.8 C352.3,328.9 355.1,327.9 356,327.5"/>
<path style="stroke-width:2.8;stroke:#1c1c1c" d="M362.5,331.1 C361.9,331.6 359.7,332.5 359,334 C358.4,335.5 358.5,338.1 358.6,340.2 C358.8,342.3 359.8,344.5 359.9,346.7 C360.1,348.8 360,351.5 359.5,353.2 C359.1,354.8 357.7,355.9 357.3,356.4"/>
<path style="stroke-width:3.1;stroke:#1c1c1c" d="M320.4,355.1 C321,355.5 322.5,356.9 324.3,357.7 C326,358.5 328.5,359.4 330.7,359.9 C333,360.5 336.7,360.8 337.9,361"/>
<path style="stroke-width:2.5;stroke:#1c1c1c" d="M354.7,359 C353.8,359.1 350.7,358.9 348.9,359.7 C347.1,360.4 344.9,362 344,363.5 C343.1,365.1 342.9,367.1 343.5,368.7 C344.1,370.4 345.6,372.2 347.6,373.3 C349.6,374.3 353,374.6 355.4,375 C357.8,375.3 359.9,375.2 361.9,375.2 C363.8,375.2 366.2,375 367.1,375"/>
<path d="M321,331.1 L317.8,330.1"/>
<path class="t" d="M320.4,355.1 L317.1,353.8 L315.8,357.1 L319.1,358.4"/>
<path class="t" d="M348.9,361.6 C350,361.5 353,360.7 355.4,361 C357.8,361.2 361,361.7 363.2,362.9 C365.3,364.1 367.4,366.5 368.4,368.1 C369.3,369.7 368.9,371.9 369,372.6"/>
<path class="t" d="M351.5,364.8 C352.4,365.7 354.5,368.7 356.7,370 C358.8,371.3 363.2,372.2 364.5,372.6"/>
<path class="t" d="M364.5,361 C365.2,361.4 367.9,362.2 369,363.5 C370.1,364.8 370.6,367.9 371,368.7"/>
<path class="w" style="stroke:none" d="M375.9,353.7 L384.4,351.2 L403.9,348.6 L405.1,378.4 L406.5,392 L386.9,402.2 L375.9,392.9 Z"/>
<path d="M375.9,354.1 L375.9,389.1"/>
<path d="M379.6,356.3 L379.6,386.1"/>
<path d="M375.9,354.1 L379.6,356.3 L384.7,353.4"/>
<path class="t" d="M377.9,355.1 L377.9,386.9"/>
<path d="M381,358.8 L381.3,356.8 L394.6,351.3 L397.1,351.7 L398.8,354.1 L399,379.6 L386.4,385.7 L381.3,383.5 Z"/>
<path d="M383,360.5 L393.7,355.8 L395.9,357.5 L395.9,379.6 L386.9,384 L383.3,382 Z"/>
<path class="t" d="M385.4,363.3 L394.2,359.2 L394.6,378.4 L387.8,382 L385.4,380.3 Z"/>
<path class="t" d="M387.8,363.9 L387.8,381.6"/>
<path class="t" d="M385.4,363.3 L387.8,364.3 L394.6,360.9"/>
<path d="M398.8,352 L403.9,349 L405.1,377.6 L399,380.3"/>
<path class="t" style="stroke-dasharray:1.2 .8" d="M400.7,352 L401,378.9"/>
<path class="t" style="stroke-dasharray:1.2 .8" d="M402.4,350.7 L402.7,378.2"/>
<path style="stroke-dasharray:1.2 .8" d="M403.9,350 L404.3,377.6"/>
<path class="t" d="M391.2,346.9 L399.7,344.4 L403.1,345.6 L394.6,348.6"/>
<path class="t" d="M392,351.2 L400.5,346.9"/>
<path class="t" d="M383.5,352 L386.1,350.7 L386.9,353.7"/>
<path d="M379.6,386.1 L386.1,389.5 L406.5,380.1 L406.5,392 L386.9,402.2 L380.1,398.8 Z"/>
<path d="M386.1,389.5 L386.9,402.2"/>
<ellipse cx="392.9" cy="392.2" rx="1.2" ry="1.7" transform="rotate(20 392.9 392.2)"/>
<ellipse class="w" cx="375.9" cy="392" rx="2.9" ry="2.9" transform="rotate(0 375.9 392)"/>
<ellipse class="g" cx="375.3" cy="396.6" rx="1" ry="1.4" transform="rotate(0 375.3 396.6)"/>
<path class="t" style="stroke-dasharray:2.4 1" d="M375.3,398.3 L375.3,447.3"/>
<path class="t" style="stroke-dasharray:3 1" d="M405.6,349.5 L423.5,349.5"/>
<path class="g" d="M405.6,349.5 L408.5,348.6 L408.5,350.3 Z"/>
<path d="M371.6,386.1 C371.3,386.9 370.5,388.9 369.9,391.2 C369.3,393.4 369.3,397.6 368.2,399.7 C367.1,401.8 364.4,402.8 363.1,403.9 C361.8,405.1 361.2,405.2 360.5,406.5 C359.8,407.8 359.1,410.7 358.8,411.6"/>
<path d="M375.9,396.3 C375.7,397.4 376.1,401.2 375,403.1 C373.9,404.9 370.7,406.2 369,407.3 C367.3,408.5 365.6,408.8 364.8,409.9 C363.9,410.9 364.1,413 363.9,413.6"/>
<path class="t" d="M300.9,404.8 C301.1,406.4 300.9,411.6 302,414.5 C303.2,417.3 305.6,420.1 307.7,421.8 C309.8,423.5 313.4,424.2 314.5,424.7"/>
<path class="t" d="M311.7,375.9 C313.1,375 317.2,371.9 320.2,370.8 C323.2,369.6 327.4,369.1 329.8,369.1 C332.3,369.1 334.1,370.5 334.9,370.8"/>
<path class="t" style="stroke-dasharray:5 2" d="M344,384.4 C344.8,386 347.7,390.9 348.5,394 C349.4,397.2 349.5,399.9 349.1,403.1 C348.7,406.3 347.7,410.2 346.3,413.3 C344.9,416.5 342.9,419.6 340.6,421.8 C338.3,424.1 335.7,425.9 332.7,427 C329.6,428 324.1,427.9 322.4,428.1"/>
<path class="t" d="M330.4,379.3 L338.3,365.7 L340.6,366.8 L333.8,381.6"/>
<path class="t" d="M340.6,366.8 L343.4,383.8"/>
<path d="M309.4,414.5 L304.9,424.7 L306.6,426 L312.2,416.7"/>
<path class="t" d="M304.9,424.7 L304.3,427"/>
<path class="w" style="stroke:none" d="M336.1,382.5 C336.1,375.2 332.7,378.2 330.4,377 C328.1,375.8 325.1,375.3 322.4,375.3 C319.8,375.3 317,375.7 314.5,377 C312,378.3 309.6,380.9 307.7,383.3 C305.8,385.6 304.1,388.5 303.2,391.2 C302.2,393.9 301.9,397 302,399.7 C302.1,402.5 302.2,405.4 303.7,407.7 C305.2,409.9 308,411.2 311.1,413.1 C314.2,415 319.3,417.8 322.4,419 C325.6,420.2 327.9,426.5 330.2,420.4 C332.4,414.3 336,389.7 336.1,382.5 Z"/>
<path d="M336.1,382.5 C335.1,381.6 332.7,378.2 330.4,377 C328.1,375.8 325.1,375.3 322.4,375.3 C319.8,375.3 317,375.7 314.5,377 C312,378.3 309.6,380.9 307.7,383.3 C305.8,385.6 304.1,388.5 303.2,391.2 C302.2,393.9 301.9,397 302,399.7 C302.1,402.5 303.4,406.3 303.7,407.7"/>
<path class="h" style="stroke-width:2.2" d="M303.2,407.4 C304.5,408.4 307.9,411.2 311.1,413.1 C314.3,415 319.3,417.8 322.4,419 C325.6,420.2 328.9,420.1 330.2,420.4"/>
<ellipse class="w" cx="334.9" cy="401.4" rx="12.3" ry="19.5" transform="rotate(17 334.9 401.4)"/>
<path class="t" d="M326.4,384.4 C325.9,385.8 323.8,389.8 323,392.9 C322.3,396 321.7,399.7 321.9,403.1 C322.1,406.5 323.1,410.7 324.1,413.3 C325.2,416 327.5,418.1 328.1,419"/>
<path d="M306.6,392.9 C306.1,391.5 306.8,389.2 307.7,387.8 C308.5,386.4 310.3,385.3 311.7,384.7 C313,384.2 314.3,384 315.6,384.4 C317,384.8 318.6,386 319.6,387.2 C320.6,388.5 321.5,390.3 321.5,391.8 C321.5,393.3 320.7,395.3 319.6,396.3 C318.5,397.4 316.3,398.1 314.7,398.1 C313.2,398.2 311.6,397.4 310.2,396.5 C308.8,395.7 307,394.4 306.6,392.9 Z"/>
<ellipse cx="317.3" cy="392.7" rx="3.7" ry="4.5" transform="rotate(20 317.3 392.7)"/>
<path class="h" d="M306.3,393.1 C306.8,393.6 308.1,395.2 309.4,396.1 C310.7,397 312.7,398.2 314.3,398.4 C315.9,398.5 318.2,397.1 319,396.9"/>
<path class="h" style="stroke-width:2" d="M319,387.2 C319.2,386.5 319.4,383.9 320.2,382.9 C320.9,381.9 322.6,381.3 323.6,381.1 C324.6,380.9 325.7,381.7 326.1,381.8"/>
<path class="t" d="M305.4,397.4 L312.8,400.9 L312.8,407.7 L305.4,404.8 Z"/>
<path class="t" d="M307.1,399.9 L311.3,401.8"/>
<path class="t" d="M307.1,402.6 L311.3,404.4"/>
<ellipse cx="337.4" cy="406" rx="5" ry="7" transform="rotate(17 337.4 406)"/>
<ellipse cx="339.7" cy="406.8" rx="3.2" ry="4.5" transform="rotate(17 339.7 406.8)"/>
<path class="t" d="M332.7,403.7 C333,403 333.9,400.5 334.9,399.7 C336,399 338.2,399.2 338.9,399.1"/>
<path class="t" d="M338.3,404.8 L341.7,405.4"/>
<path class="t" d="M339.2,407.7 L342.3,408.2"/>
<ellipse class="g" cx="336.1" cy="388.9" rx="0.7" ry="0.7" transform="rotate(0 336.1 388.9)"/>
<ellipse class="g" cx="325.3" cy="418.4" rx="0.7" ry="0.7" transform="rotate(0 325.3 418.4)"/>
<path class="t" d="M275.4,463.4 L374.1,410.3"/>
<path class="t" d="M274.1,467.1 L374.1,413.7"/>
<path style="stroke-width:.9" d="M278,469.9 L375,416.4"/>
<path d="M273.4,465.1 L274.1,468.5 L278,470.2"/>
<path d="M275.1,458 C276.4,457.2 281.2,453.9 283.1,453.2 C285,452.5 285.8,453 286.5,453.5 C287.2,454.1 288.3,455.4 287.3,456.6 C286.3,457.8 282.6,459.7 280.5,460.9 C278.5,462 276,463.3 275.1,463.7"/>
<path class="t" d="M278,458.6 C278.8,458.2 282,456.2 283.1,455.7 C284.2,455.3 285.2,455.6 284.8,456.1 C284.4,456.6 281.2,458.2 280.5,458.6"/>
<path class="t" d="M302.7,452.3 L307.8,449.8 L309.1,450.8 L304,453.5 Z"/>
<path class="t" d="M341.8,431.1 L347.8,427.7 L349.1,428.7 L343.2,432.1 Z"/>
<path class="t" d="M360.5,421.7 L365.6,418.6"/>
<path class="t" d="M283.1,413.2 L297.6,404.7 L298.4,420.9 L283.9,428.5 Z"/>
<path class="t" d="M288.2,421.7 L288.2,472.8"/>
<path class="t" style="stroke-dasharray:2.4 1" d="M306.1,425.1 L306.1,474.5"/>
<path class="t" style="stroke-dasharray:2.4 1" d="M330.7,418.3 L330.7,460"/>
<ellipse class="t" cx="309.8" cy="430.2" rx="0.9" ry="1" transform="rotate(0 309.8 430.2)"/>
<ellipse class="t" cx="292.8" cy="451.5" rx="0.9" ry="1" transform="rotate(0 292.8 451.5)"/>
<ellipse class="g" cx="289.9" cy="433.6" rx="0.7" ry="0.9" transform="rotate(0 289.9 433.6)"/>
<path d="M352,414.5 C352.9,413.8 354.6,411.4 357.1,410 C359.6,408.6 365.1,407.2 367.1,406 C369,404.9 369,404.1 369,403.2 C369,402.2 368.2,400.7 367.1,400.4 C365.9,400 363,400.8 362.2,400.9"/>
<path class="t" d="M354.9,415.1 C355.8,414.6 357.9,413.6 360.5,412.3 C363.2,410.9 368.9,408.7 370.7,407.2 C372.6,405.7 371.7,403.9 371.9,403.2"/>
<text transform="translate(376.4 456.3) scale(.84 1)">009</text>
<text transform="translate(331.6 465.6) scale(.84 1)">008</text>
<text transform="translate(304.5 480.3) scale(.84 1)">3</text>
<text transform="translate(309.5 480.3) scale(.84 1)" font-size="6.5">b</text>
<text transform="translate(304.5 488.6) scale(.84 1)">3</text>
<text transform="translate(309 488.6) scale(.84 1)" font-size="6.5">f</text>
<text transform="translate(426.8 352.6) scale(.84 1)">3</text>
<text transform="translate(431 352.6) scale(.84 1)" font-size="6.5">t</text>
<text transform="translate(418.3 315.4) scale(.84 1)">032</text>
<path class="t" style="stroke-dasharray:4 1.5" d="M391,312.6 L411,312.6"/>
</g>
<g id="box">
<path class="w" style="stroke:none" d="M409.5,508.7 L409.5,452.6 L417.1,440.6 L451.2,421.6 L454.6,422.8 L476.7,435.5 L479.6,444 L479.6,478.1 L469.9,491.7 L431.6,515 L428.2,518.1 Z"/>
<path class="h" style="stroke-width:2.4;stroke:#1a1a1a" d="M409.6,508.4 C409.6,503.3 409.5,487 409.5,478.1 C409.4,469.1 409.2,459.6 409.5,454.6 C409.8,449.6 410,450.5 411.2,448.3 C412.4,446.1 413.8,443.8 416.8,441.5 C419.8,439.1 425.4,436.2 429,434.2 C432.6,432.1 436.8,429.9 438.4,429.1"/>
<path class="h" style="stroke-width:2.4;stroke:#1a1a1a" d="M442.3,426.7 C443.1,426.2 445.4,424.8 446.9,424 C448.4,423.1 450.7,422 451.5,421.6"/>
<ellipse class="t" cx="440.6" cy="427.7" rx="1" ry="1" transform="rotate(0 440.6 427.7)"/>
<path d="M451.5,421.6 C452,421.8 452.1,421.4 454.6,422.8 C457.1,424.1 462.9,427.4 466.5,429.6 C470.1,431.7 474.3,434 476.4,435.5 C478.4,437.1 478.2,437.5 478.7,438.9 C479.3,440.4 479.5,443.2 479.6,444"/>
<path style="stroke-dasharray:1.5 .8" d="M479.6,444 L479.6,477.7"/>
<path d="M434.5,501.9 C434.5,496.1 434.3,473.7 434.5,467 C434.7,460.4 434.8,463.4 435.5,461.9 C436.2,460.4 435.5,460.4 438.9,458 C442.4,455.6 450.3,451.2 456.3,447.8 C462.2,444.3 471.2,439 474.7,437.2 C478.1,435.5 476.3,436.8 477,437.2 C477.8,437.7 478.6,439.4 478.9,439.8"/>
<path style="stroke-dasharray:1.5 .8" d="M434.5,467 L434.5,501.9"/>
<path class="t" d="M412,507.9 C412,499.1 411.7,464.8 412,455.1 C412.3,445.5 412.7,451.7 413.7,450 C414.7,448.3 417.3,445.7 418,444.9"/>
<path class="t" d="M395,438.9 L408.3,446.4"/>
<path class="t" d="M417.1,451.7 L431.6,459.4"/>
<ellipse style="stroke-width:1.3" cx="455.4" cy="473" rx="7.5" ry="9.5" transform="rotate(25 455.4 473)"/>
<ellipse class="t" cx="455.4" cy="473" rx="6.1" ry="8" transform="rotate(25 455.4 473)"/>
<path class="t" d="M453.7,467.9 L454.6,478.9"/>
<path class="t" d="M453.7,471.3 L462.2,477.2"/>
<path style="stroke-width:1" d="M459.6,456.1 a2.6,3.2 20 1 0 0.6,4.6"/>
<path style="stroke-width:1" d="M443.9,464.6 a2.6,3.2 20 1 0 0.6,4.6"/>
<path style="stroke-width:1" d="M471.5,473.1 a2.6,3.2 20 1 0 0.6,4.6"/>
<path style="stroke-width:1" d="M447.7,485.9 a2.6,3.2 20 1 0 0.6,4.6"/>
<ellipse class="g" cx="469" cy="446.1" rx="0.7" ry="0.9" transform="rotate(0 469 446.1)"/>
<ellipse class="t" cx="473.8" cy="443.5" rx="1" ry="1.4" transform="rotate(0 473.8 443.5)"/>
<path d="M410,508.7 L428.2,518.1 L434.1,504.8"/>
<path d="M428.2,518.1 L431.6,517.2 L469.9,495.1 L476.4,484 L478.4,479.3"/>
<path d="M434.5,504.5 L475,480.6 L478.7,478.9"/>
<path class="t" d="M436.2,507.2 L472.4,485.4 L475,481.3"/>
<path d="M433.3,511.6 L468.2,491.9 L473.6,483.4"/>
<path class="t" d="M428.7,501.9 L431.1,501.1 L432.1,504.1 L429.9,505.1 Z"/>
<path class="t" d="M441,507.9 L441,527.4"/>
<text transform="translate(440.6 535.3) scale(.84 1)">045</text>
<ellipse class="g" cx="468.2" cy="501.1" rx="1.7" ry="2" transform="rotate(0 468.2 501.1)"/>
<path class="t" d="M465.6,499.4 L470.7,503.1"/>
<path class="t" d="M469,504.1 L469,528.3"/>
<text transform="translate(467.9 535.3) scale(.84 1)">3</text>
<text transform="translate(472.3 535.3) scale(.84 1)" font-size="6">o</text>
<text transform="translate(495.4 475) scale(.84 1)">011</text>
<path class="t" d="M495.4,475.5 L495.4,490.5"/>
<ellipse class="w" cx="491.7" cy="493.9" rx="2.9" ry="3.7" transform="rotate(-20 491.7 493.9)"/>
<ellipse cx="493.4" cy="493.4" rx="1.9" ry="2.6" transform="rotate(-20 493.4 493.4)"/>
<path class="h" d="M488.3,490.9 C488,491.5 486.7,493.4 486.9,494.6 C487.1,495.8 489.2,497.4 489.6,498"/>
<ellipse class="g" cx="489" cy="495.6" rx="1.2" ry="1.5" transform="rotate(0 489 495.6)"/>
<path class="t" d="M451.2,490.9 L466.5,501.1"/>
<path class="t" style="stroke-dasharray:7 3" d="M476.7,486.1 L486.1,491.7"/>
<path class="t" style="stroke-dasharray:8 3 2 3" d="M497.1,496 L515,506.2"/>
</g>
<g id="pump">
<path class="t" d="M415,378.8 L423.5,383.4"/>
<path class="w" d="M423.5,383.4 L429.2,382.2 L433.2,379.4 L436,376 L440.5,374.3 L454.1,383.9 L454.7,407.2 L439.4,416.3 L424.1,410.6 L424.1,407.8 L426.3,406.1 L426.9,398.1 L426.3,389 Z"/>
<path d="M429.2,382.2 L439.4,391.3 L454.1,384.5"/>
<path style="stroke-dasharray:1.5 .8" d="M439.4,391.3 L439.4,416.3"/>
<path class="t" d="M436,376 L437.7,378.8 L450.2,386.2 L453.6,383.9"/>
<path class="t" d="M440.5,374.3 L439.4,377.1 L452.4,385.1"/>
<path class="t" d="M433.2,379.4 L437.7,378.8"/>
<ellipse cx="443.4" cy="401.5" rx="1.2" ry="2" transform="rotate(25 443.4 401.5)"/>
<path class="t" d="M446.2,391.9 L476.3,391.9"/>
<text transform="translate(484.2 395.2) scale(.84 1)">033</text>
<path class="h" style="stroke-width:2.4" d="M524.9,417.4 L534.8,421.2"/>
<path class="t" d="M534.8,421.2 C535.4,422 537.9,423.7 538.3,425.5 C538.8,427.3 537.5,430.1 537.6,431.9 C537.8,433.7 539,435.4 539.3,436.1"/>
<path class="t" d="M538.3,425.5 C539,426.1 541.3,427.9 542.6,429 C543.9,430.2 545.5,432 546.1,432.6"/>
<path class="h" style="stroke-width:2.2" d="M546.1,432.2 L550.7,434.1"/>
<path class="h" style="stroke-width:2.2" d="M539.8,436.4 L545.7,439.7"/>
<path class="w" d="M546.1,437.6 L554.6,433 L562.4,436.8 L553.9,441.5 Z"/>
<path class="w" d="M546.1,437.6 L546.1,444.6 L552.9,448.5 L553.9,441.5"/>
<path class="w" d="M553.9,441.5 L561.7,437.6 L575.2,444.9 L567.4,448.9 Z"/>
<path class="w" d="M553.9,441.5 L553.9,448.6 L567.4,456.7 L567.4,448.9"/>
<path class="w" d="M567.4,448.9 L575.2,444.9 L575.2,452.4 L567.4,456.7"/>
<path d="M568.8,450 L573.8,447.5 L573.8,451.7 L568.8,454.3 Z"/>
<path class="t" d="M570,450.9 L572.8,449.5 L572.8,451.7 L570,453.2 Z"/>
<path class="t" d="M540.5,445.4 L545.4,449.6"/>
<path class="t" d="M544.7,444.6 L541.6,450.6"/>
<path class="t" d="M505,454.6 L510.7,451.5"/>
<path class="t" d="M514.9,449 L522,445.1"/>
<path class="t" d="M526.3,442.8 L530.5,440.4 L535.5,442.5"/>
<path class="t" d="M566,417.7 L566,443.2"/>
<text transform="translate(565.3 417) scale(.84 1)">080</text>
<path class="h" style="stroke-width:2.6" d="M554.3,482.2 L563.5,478.1"/>
<path class="w" d="M538.5,489 C539.5,488.2 541.8,485.1 544.5,483.9 C547.1,482.7 552.2,481.6 554.3,481.9 C556.5,482.2 558.3,484 557.2,485.6 C556.2,487.3 550.6,489.8 547.9,491.6 C545.2,493.4 542.2,495.4 541.1,496.2"/>
<path class="t" d="M544.5,483.9 L547,488.2 L557.2,485.6"/>
<path class="t" d="M547,488.2 L546.2,492.8"/>
<path style="stroke-width:1.3" d="M524.9,491.6 L524.9,504.4"/>
<path style="stroke-width:1.3" d="M538.5,491.6 L538.5,503"/>
<ellipse class="w" style="stroke-width:1.4" cx="531.7" cy="491.6" rx="6.8" ry="3.7" transform="rotate(-10 531.7 491.6)"/>
<ellipse class="g" cx="530" cy="491.6" rx="1.7" ry="1.2" transform="rotate(0 530 491.6)"/>
<path class="t" d="M524.9,494.5 C525.9,494.9 528.6,496.8 530.9,496.7 C533.1,496.6 537.2,494.3 538.5,493.8"/>
<path class="w" d="M518.1,506.1 L524.9,504.4 L539.4,502.7 L547.9,507.8 L549.6,513.7 L549.6,528.2 L544.5,532.4 L530.9,535 L525.7,531.6 L518.1,526.5 Z"/>
<path style="stroke-width:1.4" d="M524.9,516.3 C525.2,515.9 523.3,514.9 526.6,513.7 C529.9,512.6 540.6,509.5 544.5,509.5 C548.3,509.5 548.7,513 549.6,513.7"/>
<path d="M524.9,516.3 L525.7,531.6"/>
<path d="M518.1,506.1 L524.9,512 L524.9,516.3"/>
<path class="t" d="M524.9,512 L541.1,508.6"/>
<path class="t" d="M533.4,506.1 L535.1,511.2"/>
<path class="t" d="M539.4,503 L541.1,508.6"/>
<ellipse cx="545.3" cy="515.6" rx="1.2" ry="1.5" transform="rotate(0 545.3 515.6)"/>
<ellipse cx="545.3" cy="521.7" rx="1.2" ry="1.5" transform="rotate(0 545.3 521.7)"/>
<ellipse style="stroke-width:1.2" cx="531.7" cy="517.3" rx="1.7" ry="2.2" transform="rotate(0 531.7 517.3)"/>
<path class="t" d="M530.9,513.7 L530.9,534.7"/>
<ellipse cx="514.7" cy="507.1" rx="1.5" ry="1.9" transform="rotate(0 514.7 507.1)"/>
<path class="t" d="M515.5,511.2 L518.1,512 L518.1,514.6 L515.5,513.7 Z"/>
<path style="stroke-width:1.5" d="M512.1,523.9 L515.5,522.2 L521.5,522.7 L522.3,526.1 L515.5,526.8 L512.5,526.5 Z"/>
<path class="t" d="M515.5,522.2 L515.5,526.8"/>
<ellipse class="g" cx="512.8" cy="525.1" rx="0.9" ry="1.4" transform="rotate(0 512.8 525.1)"/>
<path class="t" d="M518.1,518 L520.6,518.8 L520.6,522.2"/>
<path class="h" d="M529.5,533 L530,536.4 L532.2,536.4 L532.2,533.6"/>
<path class="t" style="stroke-dasharray:7 3" d="M500.2,499.3 L513,506.6"/>
</g>
<g id="small">
<path class="t" d="M264,420.1 L246.1,430.7"/>
<path class="t" d="M241.2,433.6 L233.2,438.4"/>
<path class="t" d="M228.3,441.4 L198.9,458.9"/>
<path class="t" d="M198.9,458.9 L200.1,460.5"/>
<path style="stroke-width:2.9;stroke:#3a3a3a" d="M165.7,496 C165,496.5 163.6,498.5 161.7,498.8 C159.9,499 157.8,499.1 154.8,497.6 C151.8,496.1 146.9,491.2 143.9,489.6 C140.8,488.1 137.8,486.8 136.3,488.5 C134.8,490.1 135,495.4 134.9,499.6 C134.9,503.7 134.9,510.2 135.9,513.5 C136.9,516.8 139.7,518.2 140.9,519.4 C142.1,520.7 142.9,520.8 143.3,521"/>
<path style="stroke-width:1.4;stroke:#fff" d="M165.7,496 C165,496.5 163.6,498.5 161.7,498.8 C159.9,499 157.8,499.1 154.8,497.6 C151.8,496.1 146.9,491.2 143.9,489.6 C140.8,488.1 137.8,486.8 136.3,488.5 C134.8,490.1 135,495.4 134.9,499.6 C134.9,503.7 134.9,510.2 135.9,513.5 C136.9,516.8 139.7,518.2 140.9,519.4 C142.1,520.7 142.9,520.8 143.3,521"/>
<path style="stroke-width:2.9;stroke:#3a3a3a" d="M157.8,523.4 C156.9,522.9 153.9,519.8 152.8,520.4 C151.7,521.1 151.5,524.9 151.2,527.4 C150.9,529.9 150.5,532.6 150.8,535.3 C151.1,538 151.8,541.3 153.2,543.7 C154.6,546 156.8,548.4 159.2,549.2 C161.5,550 165,549.1 167.1,548.4 C169.2,547.7 170.9,545.4 171.7,544.8"/>
<path style="stroke-width:1.4;stroke:#fff" d="M157.8,523.4 C156.9,522.9 153.9,519.8 152.8,520.4 C151.7,521.1 151.5,524.9 151.2,527.4 C150.9,529.9 150.5,532.6 150.8,535.3 C151.1,538 151.8,541.3 153.2,543.7 C154.6,546 156.8,548.4 159.2,549.2 C161.5,550 165,549.1 167.1,548.4 C169.2,547.7 170.9,545.4 171.7,544.8"/>
<path style="stroke-width:2.9;stroke:#3a3a3a" d="M197.5,529.4 C199.6,528 205.9,524.1 210.4,521.4 C214.9,518.8 221.2,515.5 224.3,513.5 C227.3,511.5 227.1,511.8 228.7,509.5 C230.2,507.2 233,502.1 233.6,500 C234.2,497.9 233.1,497.3 232.2,496.8 C231.4,496.3 229.5,496.4 228.7,496.8 C227.8,497.2 227.5,498.6 227.3,499"/>
<path style="stroke-width:1.4;stroke:#fff" d="M197.5,529.4 C199.6,528 205.9,524.1 210.4,521.4 C214.9,518.8 221.2,515.5 224.3,513.5 C227.3,511.5 227.1,511.8 228.7,509.5 C230.2,507.2 233,502.1 233.6,500 C234.2,497.9 233.1,497.3 232.2,496.8 C231.4,496.3 229.5,496.4 228.7,496.8 C227.8,497.2 227.5,498.6 227.3,499"/>
<path style="stroke-width:1.2" d="M169.1,454.9 C169.2,455.8 169.2,458.7 169.9,460.3 C170.5,461.8 172,463.1 173.1,464.2 C174.1,465.3 175.7,466.4 176.2,466.8"/>
<path class="w" d="M173.3,470.2 L180.6,464.8 L190.1,469.4 L183,474.2 Z"/>
<path class="w" d="M173.3,470.2 L173.6,477.3 L182.6,482.1 L183,474.2"/>
<path class="w" d="M190.1,469.4 L190.5,476.9 L182.6,482.1"/>
<ellipse class="g" cx="181.6" cy="469.4" rx="1.6" ry="1" transform="rotate(0 181.6 469.4)"/>
<path class="t" d="M184.6,475.3 L184.6,479.7"/>
<path class="t" d="M186.6,474.2 L186.6,478.9"/>
<ellipse style="stroke-width:1.3" cx="178.6" cy="487.3" rx="2.4" ry="2.8" transform="rotate(0 178.6 487.3)"/>
<ellipse style="stroke-width:1.2" cx="184.6" cy="484.1" rx="2.2" ry="2.6" transform="rotate(0 184.6 484.1)"/>
<ellipse cx="188.9" cy="482.1" rx="1.8" ry="2.2" transform="rotate(0 188.9 482.1)"/>
<ellipse style="stroke-width:1.6" cx="193.5" cy="479.7" rx="2" ry="2.4" transform="rotate(0 193.5 479.7)"/>
<path class="t" d="M177,482.1 L177,485.3"/>
<path class="t" d="M181.6,483.3 L181.6,486.1"/>
<ellipse style="stroke-width:1.7" cx="173.3" cy="491.2" rx="2" ry="2.6" transform="rotate(0 173.3 491.2)"/>
<ellipse style="stroke-width:1.4" cx="166.3" cy="494.8" rx="2" ry="2.4" transform="rotate(0 166.3 494.8)"/>
<path class="h" d="M164.3,493.2 L168.3,496.6"/>
<ellipse style="stroke-width:1.6" cx="201.4" cy="475.3" rx="2.4" ry="2.4" transform="rotate(0 201.4 475.3)"/>
<path class="h" d="M198.9,474.2 L204.4,476.5"/>
<path d="M204,473.4 L207.4,471.8"/>
<path style="stroke-width:1.2" d="M204,463.8 L206.4,463.4 L210.8,467.8 L208.4,468.8 Z"/>
<path class="t" d="M210.8,467.8 L213.4,469.4"/>
<ellipse style="stroke-width:1.6" cx="143.9" cy="521.4" rx="2.2" ry="2.6" transform="rotate(0 143.9 521.4)"/>
<path class="h" d="M141.7,519.8 L146,523.4"/>
<ellipse style="stroke-width:1.6" cx="158.4" cy="523.4" rx="2.4" ry="2.8" transform="rotate(0 158.4 523.4)"/>
<path class="h" d="M156.4,521.8 L160.7,525"/>
<path class="w" d="M170.3,527 L179.6,519.4 L196.5,527.8 L185.6,534.3 Z"/>
<path class="w" d="M170.3,527 L170.7,543.3 L184.6,551.2 L185.6,534.3"/>
<path class="w" d="M185.6,534.3 L196.5,527.8 L197.5,543.7 L184.6,551.2"/>
<path d="M187.5,534.9 L195.5,530.5 L195.7,539.3 L187.7,543.7 Z"/>
<path class="t" d="M188.9,536.1 L194.5,532.9 L194.5,538.5 L188.9,541.7 Z"/>
<path d="M166.7,527.4 L169.1,528.6 L169.1,537.3 L166.7,536.1 Z"/>
<path class="t" d="M162.7,530.9 L166.7,532.9"/>
<path class="h" d="M164.7,535.3 L167.1,534.1"/>
<path class="t" d="M187,446.9 L187,466.8"/>
<path class="t" d="M211.4,468.2 L227.3,468.2"/>
<path class="t" d="M202.4,478.7 L202.4,489.6"/>
<path class="t" d="M174.2,494.6 L174.2,506.5"/>
<path class="t" d="M144.3,470.8 L144.3,489.6"/>
<path class="t" d="M197.5,543.3 L211.4,543.3"/>
<path class="t" d="M235.2,504.5 L249.1,504.5"/>
<text transform="translate(187 446.5) scale(.84 1)">072</text>
<text transform="translate(233.8 471.3) scale(.84 1)">079</text>
<text transform="translate(202.8 496.1) scale(.84 1)">079</text>
<text transform="translate(174.6 513.4) scale(.84 1)">079</text>
<text transform="translate(143.8 470.7) scale(.84 1)">079</text>
<text transform="translate(218.3 546.6) scale(.84 1)">071</text>
<text transform="translate(256 507.8) scale(.84 1)">079</text>
<text transform="translate(121.7 469.8) scale(.84 1)">070</text>
<text transform="translate(102.4 494.8) scale(.84 1)">079</text>
<path class="t" d="M103,495.5 L103,507.9"/>
<path d="M98.5,512.7 C99.7,512 103.3,510.1 105.7,508.5 C108,506.9 111.1,503.7 112.8,503.1 C114.5,502.5 115.3,503.7 116,504.9 C116.7,506.1 116.9,507 117.1,510.6 C117.3,514.2 117.5,522.3 117.2,526.6 C117,531 116.5,534.1 115.5,536.5 C114.4,538.8 113.7,539.1 111,540.9 C108.3,542.7 101.3,546.1 99.4,547.1"/>
<path d="M99.4,510.2 C100.9,510 106.5,508.6 108.3,508.8 C110.1,509 110,508.8 110.3,511.5 C110.6,514.2 110.1,520.9 110.1,524.9 C110.1,528.9 110.4,533.2 110.1,535.6 C109.8,537.9 110.3,537.6 108.3,539.1 C106.4,540.6 100.2,543.6 98.5,544.5"/>
<path d="M91.4,506.7 L91.9,510.6 L98.5,512.7"/>
<path d="M92.8,507.4 L99.4,510.2"/>
<path d="M95,542.7 L95.7,546.6 L99.4,547.1"/>
<path d="M96.4,543 L98.5,544.5"/>
<path class="t" d="M110.3,517.7 L117.1,517.2"/>
<path class="t" d="M110.3,521.7 L117.1,521.1"/>
</g>
<g id="labels">
<path class="t" d="M244.1,232 L244.1,247"/>
<path class="t" d="M233.5,250.4 L243.7,244.7"/>
<path class="t" d="M234.1,251.8 L244.3,246.2"/>
<ellipse style="stroke-width:1.1" cx="243.2" cy="252.4" rx="2.8" ry="3.7" transform="rotate(25 243.2 252.4)"/>
<ellipse class="t" cx="242.9" cy="253" rx="1.6" ry="2.3" transform="rotate(25 242.9 253)"/>
<text transform="translate(241.2 230.2) scale(.84 1)">3</text>
<text transform="translate(246 230.2) scale(.84 1)" font-size="6.5">i</text>
<path class="t" d="M224,281 L229,283.8"/>
<path class="t" d="M235,287.2 L252,296.6"/>
<path class="t" d="M256,298.8 L259,300.4"/>
<path class="t" d="M262.5,302.3 L272,307.3"/>
<path class="t" d="M209.5,272.8 L221.5,279.5"/>
<path class="t" d="M199,267 L205,270.4"/>
<path class="t" d="M341,408 L350,413.2"/>
<path class="t" d="M353,415 L371,425.2"/>
<path class="t" d="M374.5,427.2 L377.5,428.9"/>
<path class="t" d="M381,431 L393,437.8"/>
<path class="t" d="M391.2,363.1 L406.5,373.3"/>
<path class="t" d="M409.9,375.9 L415,379"/>
<path class="t" d="M479.5,447.5 L486,450.4"/>
<path class="t" d="M489,451.7 L500.5,456.8 L505,454.2"/>
</g>
</svg>
</body></html>
